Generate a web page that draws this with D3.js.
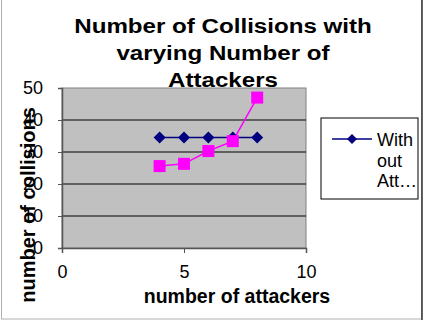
<!DOCTYPE html>
<html>
<head>
<meta charset="utf-8">
<script src="https://cdn.jsdelivr.net/npm/d3@7"></script>
<style>
  body { margin: 0; background: #fff; }
  text { font-family: "Liberation Sans", Arial, sans-serif; }
</style>
</head>
<body>
<div id="chart"></div>
<script>
  const attackers = [4, 5, 6, 7, 8];
  const withoutAttack = [34.5, 34.5, 34.5, 34.5, 34.5];
  const withAttack = [25.6, 26.3, 30.3, 33.4, 47];
  const xTicks = [0, 5, 10];
  const yTicks = [0, 10, 20, 30, 40, 50];
  const titleLines = ["Number of Collisions with", "varying Number of", "Attackers"];
  const legendLines = ["With", "out", "Att\u2026"];

  const width = 427, height = 320;
  const plot = { left: 62, right: 306, top: 88, bottom: 248 };

  const svg = d3.select("#chart")
    .append("svg")
    .attr("width", width)
    .attr("height", height);

  // outer chart border
  svg.append("rect")
    .attr("x", 1.5).attr("y", -1)
    .attr("width", 420).attr("height", 320)
    .attr("fill", "#fff")
    .attr("stroke", "#b0b0b0");
  svg.append("line")
    .attr("x1", 422).attr("x2", 422).attr("y1", 0).attr("y2", 320)
    .attr("stroke", "#333").attr("stroke-width", 1.5);

  const x = d3.scaleLinear().domain([0, 10]).range([plot.left, plot.right]);
  const y = d3.scaleLinear().domain([0, 50]).range([plot.bottom, plot.top]);

  svg.append("rect")
    .attr("x", plot.left).attr("y", plot.top)
    .attr("width", plot.right - plot.left)
    .attr("height", plot.bottom - plot.top)
    .attr("fill", "#c0c0c0")
    .attr("stroke", "#808080");

  // gridlines
  svg.append("g")
    .selectAll("line")
    .data(yTicks.slice(1, -1))
    .enter()
    .append("line")
    .attr("x1", plot.left).attr("x2", plot.right)
    .attr("y1", d => y(d)).attr("y2", d => y(d))
    .attr("stroke", "#000");

  const yAxis = svg.append("g")
    .attr("transform", `translate(${plot.left},0)`)
    .call(d3.axisLeft(y).tickValues(yTicks).tickSize(4).tickPadding(15));
  const xAxis = svg.append("g")
    .attr("transform", `translate(0,${plot.bottom})`)
    .call(d3.axisBottom(x).tickValues(xTicks).tickSize(5).tickPadding(12));

  [yAxis, xAxis].forEach(a => {
    a.select(".domain").attr("stroke", "#555").attr("stroke-width", 1.5);
    a.selectAll(".tick line").attr("stroke", "#555");
    a.selectAll(".tick text")
      .attr("font-size", 18)
      .attr("fill", "#000")
      .style("font-family", "Liberation Sans, Arial, sans-serif");
  });

  const line = d3.line()
    .x((d, i) => x(attackers[i]))
    .y(d => y(d));

  // pink series
  svg.append("path")
    .datum(withAttack)
    .attr("d", line)
    .attr("fill", "none")
    .attr("stroke", "#ff00ff")
    .attr("stroke-width", 1.5);

  // blue series
  svg.append("path")
    .datum(withoutAttack)
    .attr("d", line)
    .attr("fill", "none")
    .attr("stroke", "#000080")
    .attr("stroke-width", 1.5);

  svg.append("g")
    .selectAll("path")
    .data(withoutAttack)
    .enter()
    .append("path")
    .attr("d", "M0,-6L6,0L0,6L-6,0Z")
    .attr("fill", "#000080")
    .attr("transform", (d, i) => `translate(${x(attackers[i])},${y(d)})`);

  svg.append("g")
    .selectAll("rect")
    .data(withAttack)
    .enter()
    .append("rect")
    .attr("x", (d, i) => x(attackers[i]) - 6)
    .attr("y", d => y(d) - 6)
    .attr("width", 12).attr("height", 12)
    .attr("fill", "#ff00ff");

  // title (slightly stretched like the original)
  svg.append("text")
    .attr("transform", "translate(223,0) scale(1.15,1)")
    .attr("text-anchor", "middle")
    .attr("font-size", 21)
    .attr("font-weight", "bold")
    .selectAll("tspan")
    .data(titleLines)
    .enter()
    .append("tspan")
    .attr("x", 0)
    .attr("y", (d, i) => 33 + i * 27)
    .text(d => d);

  svg.append("text")
    .attr("x", 237).attr("y", 303)
    .attr("text-anchor", "middle")
    .attr("font-size", 19.5)
    .attr("font-weight", "bold")
    .text("number of attackers");

  svg.append("text")
    .attr("transform", "translate(35,205) rotate(-90)")
    .attr("text-anchor", "middle")
    .attr("font-size", 20)
    .attr("font-weight", "bold")
    .text("number of collisions");

  // legend
  const legend = svg.append("g");
  legend.append("rect")
    .attr("x", 321).attr("y", 118)
    .attr("width", 97).attr("height", 81)
    .attr("fill", "#fff")
    .attr("stroke", "#000");
  legend.append("line")
    .attr("x1", 332).attr("x2", 372).attr("y1", 139).attr("y2", 139)
    .attr("stroke", "#000080").attr("stroke-width", 1.5);
  legend.append("path")
    .attr("d", "M0,-5L5,0L0,5L-5,0Z")
    .attr("fill", "#000080")
    .attr("transform", "translate(352,139)");
  legend.append("text")
    .attr("font-size", 18)
    .selectAll("tspan")
    .data(legendLines)
    .enter()
    .append("tspan")
    .attr("x", 377)
    .attr("y", (d, i) => 146 + i * 20.5)
    .text(d => d);
</script>
</body>
</html>
